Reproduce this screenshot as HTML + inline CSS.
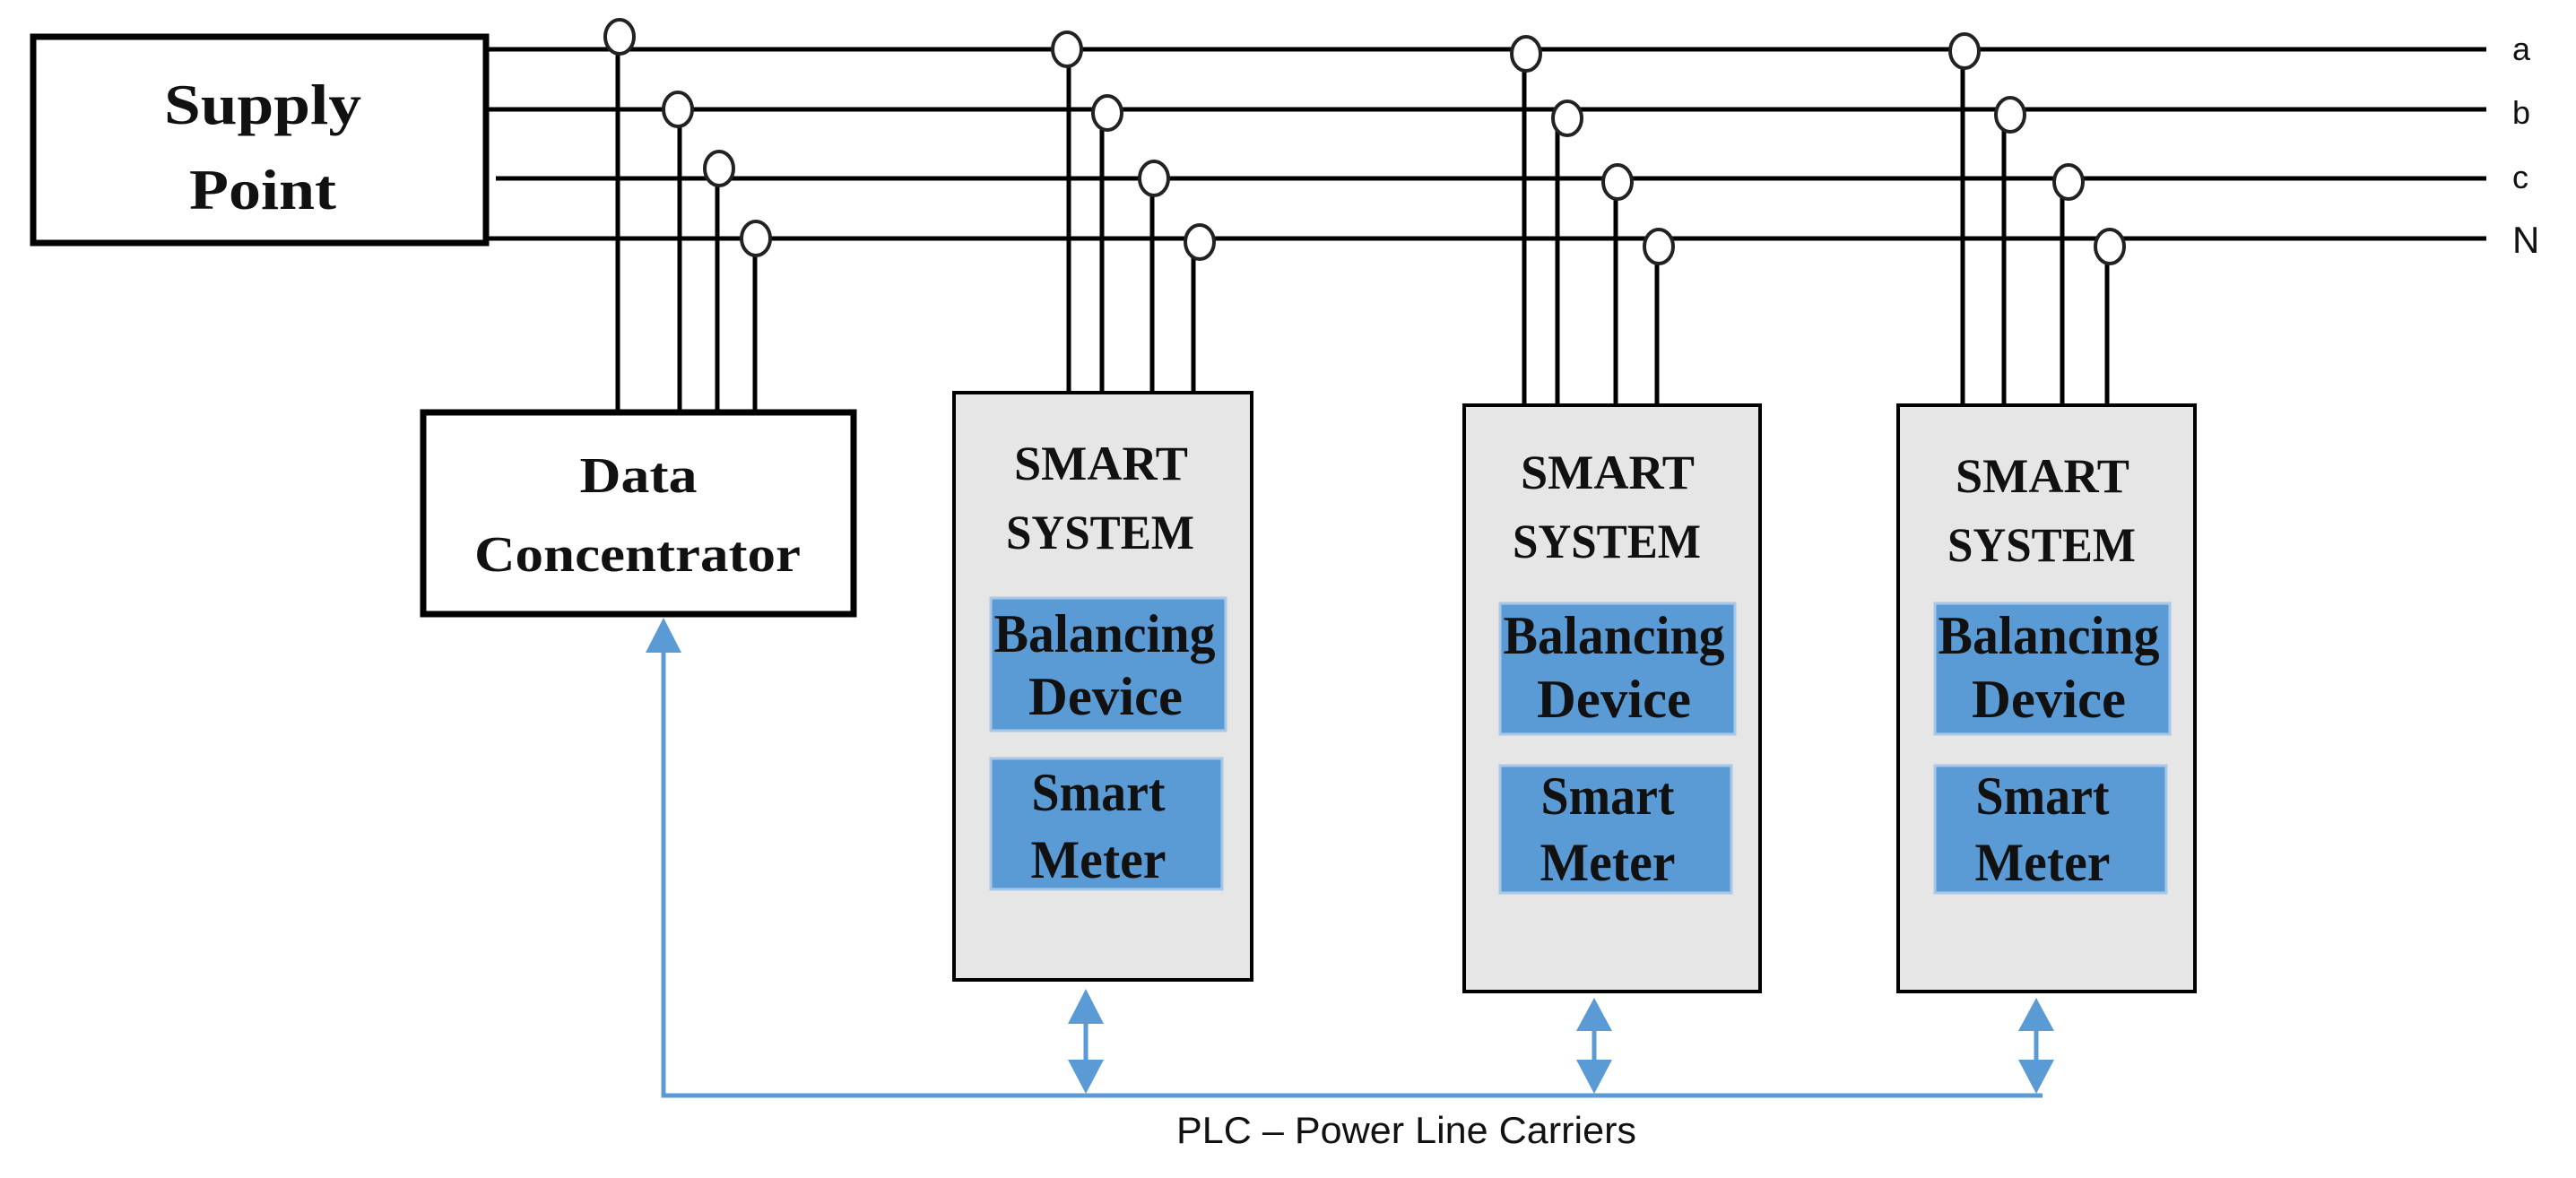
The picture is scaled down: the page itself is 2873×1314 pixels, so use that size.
<!DOCTYPE html>
<html><head><meta charset="utf-8"><style>
html,body{margin:0;padding:0;background:#fff;}
svg{display:block;}
.s{font-family:"Liberation Serif",serif;font-weight:bold;fill:#111;}
.n{font-family:"Liberation Sans",sans-serif;fill:#111;}
</style></head><body>
<svg width="2873" height="1314" viewBox="0 0 2873 1314" xmlns="http://www.w3.org/2000/svg">
<g stroke="#000" stroke-width="5">
<line x1="545" y1="55" x2="2773" y2="55"/>
<line x1="545" y1="122" x2="2773" y2="122"/>
<line x1="553" y1="199" x2="2773" y2="199"/>
<line x1="545" y1="266" x2="2773" y2="266"/>
</g>
<g class="n" font-size="36">
<text x="2802" y="67">a</text>
<text x="2802" y="138">b</text>
<text x="2802" y="210">c</text>
<text x="2802" y="282" font-size="42">N</text>
</g>
<g stroke="#000" stroke-width="5">
<line x1="689" y1="55" x2="689" y2="460"/>
<line x1="758" y1="130" x2="758" y2="460"/>
<line x1="800" y1="200" x2="800" y2="460"/>
<line x1="842" y1="280" x2="842" y2="460"/>
<line x1="1192" y1="70" x2="1192" y2="437"/>
<line x1="1229" y1="140" x2="1229" y2="437"/>
<line x1="1285" y1="212" x2="1285" y2="437"/>
<line x1="1331" y1="283" x2="1331" y2="437"/>
<line x1="1700" y1="70" x2="1700" y2="452"/>
<line x1="1737" y1="140" x2="1737" y2="452"/>
<line x1="1802" y1="212" x2="1802" y2="452"/>
<line x1="1848" y1="283" x2="1848" y2="452"/>
<line x1="2189" y1="70" x2="2189" y2="452"/>
<line x1="2235" y1="140" x2="2235" y2="452"/>
<line x1="2300" y1="212" x2="2300" y2="452"/>
<line x1="2350" y1="283" x2="2350" y2="452"/>
</g>
<g fill="#fff" stroke="#222" stroke-width="4">
<ellipse cx="691" cy="41" rx="16" ry="19"/>
<ellipse cx="756" cy="122" rx="16" ry="19"/>
<ellipse cx="802" cy="188" rx="16" ry="19"/>
<ellipse cx="843" cy="266" rx="16" ry="19"/>
<ellipse cx="1190" cy="55" rx="16" ry="19"/>
<ellipse cx="1235" cy="126" rx="16" ry="19"/>
<ellipse cx="1287" cy="199" rx="16" ry="19"/>
<ellipse cx="1338" cy="270" rx="16" ry="19"/>
<ellipse cx="1702" cy="60" rx="16" ry="19"/>
<ellipse cx="1748" cy="132" rx="16" ry="19"/>
<ellipse cx="1804" cy="203" rx="16" ry="19"/>
<ellipse cx="1850" cy="275" rx="16" ry="19"/>
<ellipse cx="2191" cy="57" rx="16" ry="19"/>
<ellipse cx="2242" cy="128" rx="16" ry="19"/>
<ellipse cx="2307" cy="203" rx="16" ry="19"/>
<ellipse cx="2353" cy="275" rx="16" ry="19"/>
</g>
<rect x="37" y="41" width="505" height="230" fill="#fff" stroke="#000" stroke-width="7"/>
<text class="s" x="293" y="138" font-size="64" text-anchor="middle" textLength="220" lengthAdjust="spacingAndGlyphs">Supply</text>
<text class="s" x="293" y="233" font-size="64" text-anchor="middle" textLength="164" lengthAdjust="spacingAndGlyphs">Point</text>
<rect x="472" y="460" width="480" height="225" fill="#fff" stroke="#000" stroke-width="7"/>
<text class="s" x="712" y="549" font-size="56" text-anchor="middle" textLength="131" lengthAdjust="spacingAndGlyphs">Data</text>
<text class="s" x="711" y="637" font-size="56" text-anchor="middle" textLength="364" lengthAdjust="spacingAndGlyphs">Concentrator</text>
<g stroke="#000" stroke-width="4" fill="#e6e6e6">
<rect x="1064" y="438" width="332" height="655"/>
<rect x="1633" y="452" width="330" height="654"/>
<rect x="2117" y="452" width="331" height="654"/>
</g>
<g fill="#5b9bd5" stroke="#a9c8e8" stroke-width="3">
<rect x="1105" y="667" width="262" height="148"/>
<rect x="1105" y="846" width="258" height="146"/>
<rect x="1673" y="673" width="262" height="146"/>
<rect x="1673" y="854" width="258" height="142"/>
<rect x="2158" y="673" width="262" height="146"/>
<rect x="2158" y="854" width="258" height="142"/>
</g>
<g class="s" text-anchor="middle">
<text x="1228" y="535" font-size="54" textLength="194" lengthAdjust="spacingAndGlyphs">SMART</text>
<text x="1227" y="612" font-size="54" textLength="210" lengthAdjust="spacingAndGlyphs">SYSTEM</text>
<text x="1232" y="727" font-size="60" textLength="247" lengthAdjust="spacingAndGlyphs">Balancing</text>
<text x="1233" y="797" font-size="60" textLength="172" lengthAdjust="spacingAndGlyphs">Device</text>
<text x="1225" y="904" font-size="60" textLength="149" lengthAdjust="spacingAndGlyphs">Smart</text>
<text x="1225" y="979" font-size="60" textLength="151" lengthAdjust="spacingAndGlyphs">Meter</text>
<text x="1793" y="545" font-size="54" textLength="194" lengthAdjust="spacingAndGlyphs">SMART</text>
<text x="1792" y="622" font-size="54" textLength="210" lengthAdjust="spacingAndGlyphs">SYSTEM</text>
<text x="1800" y="729" font-size="60" textLength="247" lengthAdjust="spacingAndGlyphs">Balancing</text>
<text x="1800" y="800" font-size="60" textLength="172" lengthAdjust="spacingAndGlyphs">Device</text>
<text x="1793" y="908" font-size="60" textLength="149" lengthAdjust="spacingAndGlyphs">Smart</text>
<text x="1793" y="982" font-size="60" textLength="151" lengthAdjust="spacingAndGlyphs">Meter</text>
<text x="2278" y="549" font-size="54" textLength="194" lengthAdjust="spacingAndGlyphs">SMART</text>
<text x="2277" y="626" font-size="54" textLength="210" lengthAdjust="spacingAndGlyphs">SYSTEM</text>
<text x="2285" y="729" font-size="60" textLength="247" lengthAdjust="spacingAndGlyphs">Balancing</text>
<text x="2285" y="800" font-size="60" textLength="172" lengthAdjust="spacingAndGlyphs">Device</text>
<text x="2278" y="908" font-size="60" textLength="149" lengthAdjust="spacingAndGlyphs">Smart</text>
<text x="2278" y="982" font-size="60" textLength="151" lengthAdjust="spacingAndGlyphs">Meter</text>
</g>
<g stroke="#5b9bd5" stroke-width="5" fill="none">
<polyline points="740,725 740,1222 2278,1222"/>
<line x1="1211" y1="1135" x2="1211" y2="1190"/>
<line x1="1778" y1="1142" x2="1778" y2="1190"/>
<line x1="2271" y1="1142" x2="2271" y2="1190"/>
</g>
<g fill="#5b9bd5">
<polygon points="740,689 720,728 760,728"/>
<polygon points="1211,1103 1191,1142 1231,1142"/>
<polygon points="1211,1220 1191,1182 1231,1182"/>
<polygon points="1778,1113 1758,1150 1798,1150"/>
<polygon points="1778,1220 1758,1182 1798,1182"/>
<polygon points="2271,1113 2251,1150 2291,1150"/>
<polygon points="2271,1220 2251,1182 2291,1182"/>
</g>
<text class="n" x="1312" y="1275" font-size="42" textLength="513" lengthAdjust="spacingAndGlyphs">PLC – Power Line Carriers</text>
</svg>
</body></html>
